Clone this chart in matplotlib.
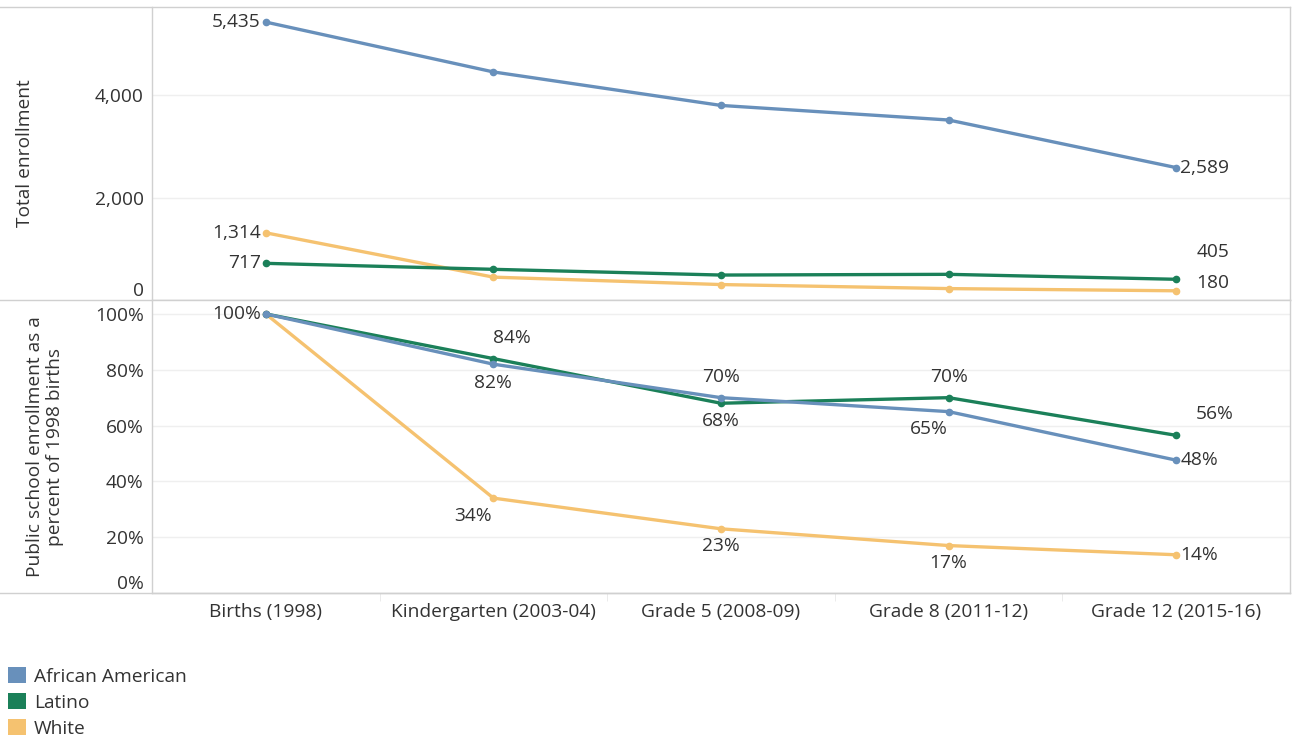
import matplotlib
matplotlib.use("Agg")
import matplotlib.pyplot as plt
from matplotlib.lines import Line2D
from matplotlib.patches import Patch

plt.rcParams['font.family'] = ['Open Sans', 'DejaVu Sans']

# data
stages = ["Births (1998)", "Kindergarten (2003-04)", "Grade 5 (2008-09)",
          "Grade 8 (2011-12)", "Grade 12 (2015-16)"]
groups = ["African American", "Latino", "White"]
colors = ["#6890bb", "#1b8059", "#f5c270"]

total_aa = [5435, 4460, 3805, 3520, 2589]
total_lat = [717, 600, 488, 502, 405]
total_wh = [1314, 447, 302, 223, 180]

pct_aa = [100, 82, 70, 65, 47.6]
pct_lat = [100, 84, 68, 70, 56.5]
pct_wh = [100, 34, 23, 17, 13.7]

totals = [total_aa, total_lat, total_wh]
pcts = [pct_aa, pct_lat, pct_wh]

txt = "#333333"
grid = "#efefef"
frame = "#d0d0d0"
fs = 13.8
W, H = 1293, 740

fig = plt.figure(figsize=(W / 100, H / 100), dpi=100)
left = 152 / W
width = (1290 - 152) / W
ax1 = fig.add_axes([left, 1 - 300 / H, width, 293 / H])
ax2 = fig.add_axes([left, 1 - 593 / H, width, 293 / H])

x = list(range(len(stages)))
zorders = [4, 3, 2]

for i in range(3):
    ax1.plot(x, totals[i], color=colors[i], lw=2.4, marker="o", ms=4.5,
             solid_capstyle="round", zorder=zorders[i])
    ax2.plot(x, pcts[i], color=colors[i], lw=2.4, marker="o", ms=4.5,
             solid_capstyle="round", zorder=zorders[i])


def lab(ax, xi, yi, s, dx, dy, ha="center"):
    # offsets given in pixels
    ax.annotate(s, (xi, yi), xytext=(dx * 0.72, dy * 0.72),
                textcoords="offset points", ha=ha, va="center",
                fontsize=fs, color=txt, zorder=6)


# top panel labels
for i in range(3):
    lab(ax1, 0, totals[i][0], f"{totals[i][0]:,}", -5, 0, ha="right")
lab(ax1, 4, total_aa[-1], f"{total_aa[-1]:,}", 4, 0, ha="left")
lab(ax1, 4, total_lat[-1], f"{total_lat[-1]:,}", 20, 27, ha="left")
lab(ax1, 4, total_wh[-1], f"{total_wh[-1]:,}", 20, 8, ha="left")

# bottom panel labels
lab(ax2, 0, 100, "100%", -5, 0, ha="right")
lab(ax2, 1, pct_lat[1], f"{pct_lat[1]:.0f}%", 18, 21)
lab(ax2, 1, pct_aa[1], f"{pct_aa[1]:.0f}%", 0, -19)
lab(ax2, 1, pct_wh[1], f"{pct_wh[1]:.0f}%", -20, -18)
lab(ax2, 2, pct_aa[2], f"{pct_aa[2]:.0f}%", 0, 21)
lab(ax2, 2, pct_lat[2], f"{pct_lat[2]:.0f}%", 0, -18)
lab(ax2, 2, pct_wh[2], f"{pct_wh[2]:.0f}%", 0, -17)
lab(ax2, 3, pct_lat[3], f"{pct_lat[3]:.0f}%", 0, 21)
lab(ax2, 3, pct_aa[3], f"{pct_aa[3]:.0f}%", -20, -17)
lab(ax2, 3, pct_wh[3], f"{pct_wh[3]:.0f}%", 0, -17)
lab(ax2, 4, pct_lat[4], f"{pct_lat[4]:.0f}%", 20, 21, ha="left")
lab(ax2, 4, pct_aa[4], f"{pct_aa[4]:.0f}%", 4, 0, ha="left")
lab(ax2, 4, pct_wh[4], f"{pct_wh[4]:.0f}%", 4, 0, ha="left")

for ax in (ax1, ax2):
    ax.set_xlim(-0.5, 4.5)
    for s in ax.spines.values():
        s.set_color(frame)
        s.set_linewidth(1)
    ax.spines["top"].set_visible(False)
    ax.grid(axis="y", color=grid, lw=1)
    ax.set_axisbelow(True)
    ax.tick_params(axis="y", length=0, pad=6, labelsize=fs, labelcolor=txt)

ax1.set_ylim(0, 5730)
ax1.set_yticks([0, 2000, 4000])
ax1.set_yticklabels(["0", "2,000", "4,000"])
ax1.set_xticks(x)
ax1.tick_params(axis="x", length=0, labelbottom=False)

ax2.set_ylim(0, 105)
ax2.set_yticks([0, 20, 40, 60, 80, 100])
ax2.set_yticklabels(["0%", "20%", "40%", "60%", "80%", "100%"])
ax2.set_xticks(x)
ax2.set_xticklabels(stages)
ax2.set_xticks([0.5, 1.5, 2.5, 3.5], minor=True)
ax2.tick_params(axis="x", which="major", length=0, pad=7, labelsize=fs,
                labelcolor=txt)
ax2.tick_params(axis="x", which="minor", length=6, color="#e8e8e8")

# nudge the zero labels up so they sit inside the panel
ax1.get_yticklabels()[0].set_va("bottom")
ax2.get_yticklabels()[0].set_va("bottom")

ax1.set_ylabel("Total enrollment", fontsize=fs, color=txt, labelpad=0)
ax1.yaxis.set_label_coords(-118 / 1138, 0.5)
ax2.set_ylabel("Public school enrollment as a\npercent of 1998 births",
               fontsize=fs, color=txt, linespacing=1.15)
ax2.yaxis.set_label_coords(-88 / 1138, 0.5)

# frame lines running across the full width
for yy in (7, 300, 593):
    fig.add_artist(Line2D([0, 1290 / W], [1 - yy / H, 1 - yy / H],
                          color=frame, lw=1, transform=fig.transFigure))

handles = [Patch(facecolor=c, edgecolor="none") for c in colors]
fig.legend(handles, groups, loc="upper left", bbox_to_anchor=(4 / W, 1 - 663 / H),
           frameon=False, fontsize=fs, handlelength=0.95, handleheight=0.95,
           handletextpad=0.4, labelspacing=0.37, borderaxespad=0,
           borderpad=0.2, labelcolor=txt)

fig.savefig("out.png", dpi=100)
